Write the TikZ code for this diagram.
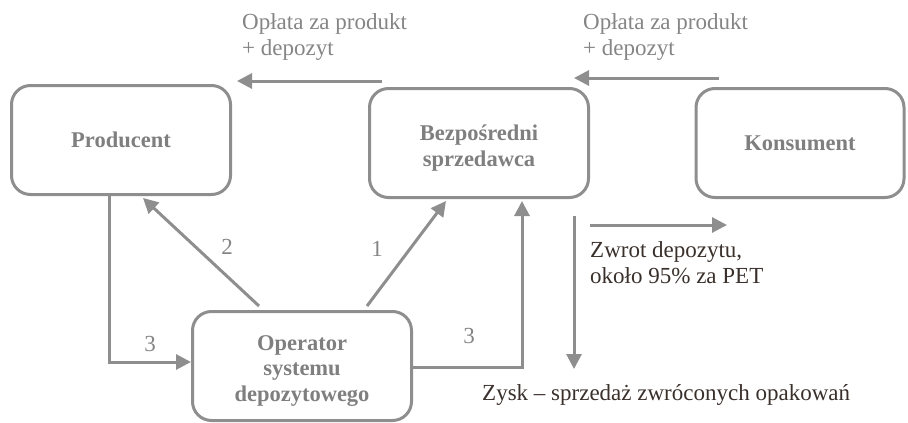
\documentclass[tikz,border=0pt]{standalone}
\usepackage{fontspec}
\setmainfont{Liberation Serif}
\usetikzlibrary{arrows.meta,calc}
\definecolor{linegray}{HTML}{8E8E8E}
\definecolor{boxtext}{HTML}{7F7F7F}
\definecolor{labelgray}{HTML}{858585}
\definecolor{darktext}{HTML}{3A302B}
% invisible strut that raises the first line of a box label
\newcommand{\firstlift}[1]{\rule{0pt}{#1}}
\begin{document}
\begin{tikzpicture}[x=1pt,y=-1pt,
  every node/.style={font=\fontsize{23}{26}\selectfont},
  party/.style={draw=linegray, line width=3pt, rounded corners=19pt,
    minimum width=219pt, minimum height=109pt, align=center,
    text=boxtext, font=\fontsize{22.5}{25.5}\selectfont\bfseries},
  flow/.style={draw=linegray, line width=3pt,
    -{Triangle[length=15pt,width=15pt]}},
  lbl/.style={text=labelgray, inner sep=0pt, align=left},
  note/.style={text=darktext, inner sep=0pt, align=left}]
\useasboundingbox (0,0) rectangle (908,423);

% parties
\node[party] (prod) at (121,140) {Producent};
\node[party] (sell) at (479,143) {\firstlift{26pt}Bezpośredni\\sprzedawca};
\node[party, minimum width=208pt] (cons) at (800,143) {Konsument};
\node[party] (oper) at (302,366) {\firstlift{24pt}Operator\\systemu\\depozytowego};

% payment flows along the top
\coordinate (p1s) at (382,81);
\coordinate (p1e) at (237,81);
\coordinate (p2s) at (719,78);
\coordinate (p2e) at (574,78);
\draw[flow] (p1s) -- (p1e);
\draw[flow] (p2s) -- (p2e);
\node[lbl, anchor=base west] (pay1) at (242,55) {Opłata za produkt\\+ depozyt};
\node[lbl, anchor=base west] (pay2) at (583,55) {Opłata za produkt\\+ depozyt};

% operator links
\draw[flow] ($(oper.north west)+(68,-4)$) -- ($(prod.south west)+(133,2)$);
\draw[flow] ($(oper.north west)+(176,-4)$) -- ($(sell.south west)+(78,2)$);
\draw[flow] ($(prod.south west)+(99,0)$) |- ($(oper.west)+(0,-4)$);
\draw[flow] ($(oper.east)+(0,1)$) -| ($(sell.south west)+(154,2)$);
\node[lbl] (n2) at (227,247) {2};
\node[lbl] (n1) at (377,249) {1};
\node[lbl] (n3a) at (150,344) {3};
\node[lbl] (n3b) at (469,336) {3};

% deposit refund and profit
\coordinate (rs) at (590,225);
\coordinate (re) at (727,225);
\coordinate (ds) at (574,216);
\coordinate (de) at (574,369);
\draw[flow] (rs) -- (re);
\draw[flow] (ds) -- (de);
\node[note, anchor=base west] (refund) at (590,283) {Zwrot depozytu,\\około 95\% za PET};
\node[note, anchor=base west] (profit) at (482,400) {Zysk – sprzedaż zwróconych opakowań};
\end{tikzpicture}
\end{document}
